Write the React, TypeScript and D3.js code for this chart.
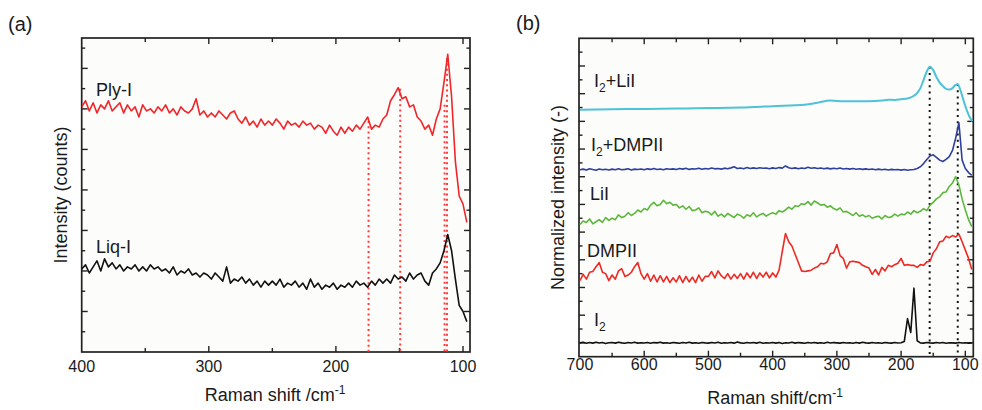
import React from 'react';
import * as d3 from 'd3';

// ---------- Panel (a) data: x grid 400 -> 97 step -3 ----------
const A_X_START = 400;
const A_X_STEP = -3;
const A_PLY = [
  12.1, 12.4, 11.9, 12.3, 11.8, 12.2, 12.0, 12.4, 11.9, 12.1,
  12.3, 11.8, 12.2, 11.9, 12.1, 11.6, 12.2, 11.9, 12.0, 11.8,
  12.1, 11.9, 12.2, 11.8, 12.0, 11.7, 12.1, 11.9, 11.8, 12.0,
  12.5, 11.7, 11.9, 11.6, 11.8, 11.6, 11.9, 11.7, 11.5, 11.8,
  11.9, 11.5, 11.3, 11.6, 11.2, 11.4, 11.1, 11.5, 11.2, 11.4,
  11.2, 11.5, 11.3, 11.0, 11.4, 11.2, 11.3, 11.1, 11.4, 11.2,
  11.3, 11.0, 11.2, 11.1, 10.8, 11.2, 10.9, 10.7, 11.1, 10.8,
  11.1, 10.9, 11.2, 11.0, 11.3, 11.6, 11.0, 11.2, 11.1, 11.5,
  11.7, 12.4, 12.7, 13.05, 12.5, 12.6, 12.1, 12.2, 11.6, 11.4,
  11.0, 11.2, 10.7, 11.5, 12.0, 13.3, 14.7, 12.6, 9.4, 7.7,
  7.3, 6.4,
];
const A_LIQ = [
  4.1, 4.3, 3.9, 4.2, 4.5, 4.0, 4.6, 4.2, 4.4, 4.1,
  4.3, 4.0, 4.2, 4.1, 4.3, 4.0, 4.2, 4.0, 4.3, 4.1,
  4.2, 4.0, 4.1, 3.9, 4.2, 3.8, 4.0, 3.9, 4.1, 3.8,
  3.9, 3.7, 3.9, 3.8, 3.6, 3.9, 3.7, 3.5, 4.2, 3.4,
  3.6, 3.5, 3.7, 3.4, 3.6, 3.3, 3.5, 3.2, 3.5, 3.3,
  3.5, 3.3, 3.6, 3.2, 3.4, 3.3, 3.5, 3.2, 3.4, 3.1,
  3.6, 3.2, 3.4, 3.1, 3.3, 3.2, 3.4, 3.1, 3.3, 3.2,
  3.4, 3.2, 3.5, 3.3, 3.4, 3.2, 3.5, 3.3, 3.6, 3.4,
  3.6, 3.4, 3.8, 3.6, 3.7, 3.5, 3.9, 3.6, 3.8, 3.9,
  3.5, 3.3, 3.9, 4.1, 4.4, 5.0, 5.8, 5.0, 3.6, 2.3,
  2.0, 1.5,
];
const A_MARK_X = [174.3, 149.4, 114.5, 112.6];
const A_MARK_TOP = [11.4, 13.0, 12.2, 14.5];
const A_X_TICKS = [400, 300, 200, 100];
const A_LABELS = ['Ply-I', 'Liq-I'];

// ---------- Panel (b) data: x grid 700 -> 90 step -5 ----------
const B_X_START = 700;
const B_X_STEP = -5;
const B_I2DMPII = [
  13.50, 13.55, 13.48, 13.58, 13.52, 13.47, 13.56, 13.50, 13.54, 13.49,
  13.55, 13.51, 13.57, 13.50, 13.53, 13.58, 13.49, 13.55, 13.52, 13.56,
  13.50, 13.57, 13.53, 13.60, 13.52, 13.56, 13.50, 13.58, 13.54, 13.57,
  13.52, 13.59, 13.55, 13.61, 13.53, 13.58, 13.56, 13.62, 13.54, 13.60,
  13.56, 13.63, 13.57, 13.60, 13.55, 13.62, 13.58, 13.64, 13.72, 13.60,
  13.63, 13.58, 13.66, 13.60, 13.64, 13.59, 13.65, 13.61, 13.63, 13.58,
  13.64, 13.60, 13.66, 13.62, 13.78, 13.65, 13.60, 13.64, 13.58, 13.63,
  13.60, 13.68, 13.61, 13.65, 13.59, 13.63, 13.58, 13.62, 13.57, 13.61,
  13.58, 13.63, 13.56, 13.60, 13.55, 13.59, 13.54, 13.58, 13.53, 13.57,
  13.52, 13.56, 13.50, 13.55, 13.51, 13.54, 13.49, 13.53, 13.50, 13.52,
  13.48, 13.52, 13.47, 13.50, 13.52, 13.60, 13.72, 13.95, 14.25, 14.50,
  14.58, 14.40, 14.20, 14.10, 14.25, 14.45, 14.9, 15.8, 16.9, 14.2,
  13.6, 13.3, 13.1,
];
const B_LII = [
  9.55, 9.8, 9.7, 9.95, 9.6, 9.75, 9.9, 9.7, 10.05, 9.85,
  10.0, 9.9, 10.25, 10.05, 10.15, 10.4, 10.2, 10.35, 10.6, 10.45,
  10.7, 10.6, 10.95, 11.15, 10.9, 11.0, 11.3, 11.05, 11.15, 10.95,
  11.0, 10.75, 10.9, 10.65, 10.85, 10.55, 10.6, 10.75, 10.4, 10.5,
  10.45, 10.25, 10.5, 10.15, 10.3, 10.1, 10.35, 10.2, 10.05, 10.3,
  10.2, 10.0, 10.25, 10.15, 10.4, 10.1, 10.25, 10.35, 10.15, 10.3,
  10.4, 10.3, 10.55, 10.45, 10.6, 10.8, 10.65, 10.9, 10.85, 11.05,
  11.0, 11.2, 10.95, 11.25, 11.1, 10.95, 11.0, 10.8, 10.9, 10.7,
  10.6, 10.75, 10.45, 10.5, 10.35, 10.2, 10.4, 10.15, 10.25, 10.1,
  10.2, 10.0, 10.1, 10.15, 9.95, 10.2, 10.05, 10.1, 10.3, 10.15,
  10.3, 10.25, 10.45, 10.3, 10.55, 10.4, 10.5, 10.7, 10.55, 10.95,
  11.15, 11.4, 11.55, 11.85, 11.9, 12.3, 12.55, 13.0, 12.4, 11.4,
  10.6, 9.9, 9.4,
];
const B_DMPII = [
  5.5, 5.95, 5.6, 6.1, 6.15, 6.5, 6.8, 6.1, 6.0, 5.5,
  5.9, 5.6, 6.2, 6.35, 5.8, 5.9, 6.1, 6.5, 6.8, 6.0,
  5.6, 6.0, 5.45, 5.9, 5.4, 5.85, 5.4, 5.8, 5.35, 5.7,
  5.4, 5.85, 5.35, 5.8, 5.4, 5.75, 5.35, 5.9, 5.45, 5.8,
  5.8, 6.15, 5.7, 6.2, 5.85, 5.65, 6.0, 5.6, 5.95, 5.65,
  6.0, 5.6, 6.05, 5.7, 6.1, 5.65, 6.05, 5.75, 6.1, 5.7,
  6.05, 5.75, 6.25, 7.6, 8.9, 8.3, 8.0, 7.4, 6.8, 6.2,
  6.15, 6.2, 6.25, 6.4, 6.5, 6.75, 6.7, 6.85, 7.45, 7.5,
  8.1, 7.3, 7.1, 6.4, 6.85, 6.9, 6.85, 6.8, 6.6, 6.5,
  6.4, 5.95, 6.3, 5.9, 6.45, 6.2, 6.6, 6.5, 6.65, 6.75,
  7.1, 6.6, 6.65, 6.6, 6.6, 6.45, 6.65, 6.6, 6.85, 6.9,
  7.5, 7.8, 8.3, 8.35, 8.7, 8.6, 8.75, 8.65, 8.85, 8.3,
  7.7, 7.1, 6.3,
];
const B_I2 = [
  1.0, 1.04, 0.97, 1.02, 0.98, 1.05, 0.99, 1.03, 0.96, 1.01,
  1.03, 0.98, 1.05, 1.0, 0.97, 1.02, 0.99, 1.04, 0.98, 1.01,
  0.99, 1.03, 0.97, 1.02, 1.0, 1.05, 0.98, 1.01, 0.97, 1.03,
  1.0, 0.97, 1.02, 0.99, 1.04, 0.98, 1.01, 0.97, 1.03, 1.0,
  0.98, 1.02, 0.99, 1.04, 0.97, 1.01, 0.99, 1.03, 0.98, 1.06,
  1.0, 0.97, 1.03, 0.99, 1.02, 0.98, 1.04, 0.97, 1.01, 0.99,
  1.02, 0.98, 1.03, 0.96, 1.01, 0.99, 1.04, 0.98, 1.02, 1.0,
  0.97, 1.03, 0.99, 1.02, 0.98, 1.01, 0.97, 1.04, 0.99, 1.02,
  1.0, 0.98, 1.03, 0.99, 1.01, 0.97, 1.02, 0.98, 1.04, 1.0,
  0.98, 1.02, 0.99, 1.01, 0.97, 1.03, 1.0, 0.98, 1.02, 0.99,
  1.01, 1.1, 2.75, 1.75, 4.95, 1.15, 1.0, 0.98, 1.03, 1.0,
  0.98, 1.02, 0.99, 1.03, 0.97, 1.01, 1.0, 0.98, 1.02, 0.99,
  1.01, 0.98, 1.0,
];
// I2+LiI is smooth: own sample points
const B_I2LII_X = [700, 650, 600, 550, 500, 450, 400, 350, 330, 310, 290, 270, 250, 230, 220, 210, 200, 190, 180, 175, 170, 165, 160, 155, 150, 145, 140, 135, 130, 125, 120, 116, 112, 108, 104, 100, 96, 92, 89];
const B_I2LII_Y = [17.84, 17.87, 17.9, 17.93, 17.96, 18.0, 18.1, 18.2, 18.35, 18.5, 18.45, 18.45, 18.45, 18.5, 18.56, 18.55, 18.6, 18.65, 18.85, 19.05, 19.4, 20.0, 20.6, 20.95, 20.7, 20.2, 19.8, 19.55, 19.35, 19.3, 19.4, 19.6, 19.7, 19.3, 18.7, 18.1, 17.6, 17.2, 17.0];
const B_MARK_X = [155.5, 111.8];
const B_MARK_TOP = [20.95, 19.7];
const B_X_TICKS = [700, 600, 500, 400, 300, 200, 100];

const FONT = "'Liberation Sans', Arial, Helvetica, sans-serif";

const PA = { l: 81.7, r: 470, t: 38, b: 352 };
const PB = { l: 579, r: 973.3, t: 38.3, b: 356.7 };

type Pt = [number, number];

function grid(start: number, step: number, ys: number[]): Pt[] {
  return ys.map((y, i) => [start + step * i, y] as Pt);
}

function Frame({ P, x, y, yMax, xMinor, xMajorEvery, yMajorOdd }: any) {
  const els: any[] = [];
  const xt = d3.range(xMinor[0], xMinor[1] - 1, -50);
  xt.forEach((v: number, i: number) => {
    const px = x(v);
    if (px <= P.l + 1 || px >= P.r - 1) return;
    const len = v % xMajorEvery === 0 ? 6 : 4;
    els.push(<line key={'xb' + i} x1={px} x2={px} y1={P.b} y2={P.b - len} stroke="#222" strokeWidth={1.4} />);
    els.push(<line key={'xt' + i} x1={px} x2={px} y1={P.t} y2={P.t + len} stroke="#222" strokeWidth={1.4} />);
  });
  d3.range(1, yMax + 1).forEach((v: number) => {
    const py = y(v);
    if (py <= P.t + 1) return;
    const major = yMajorOdd ? v % 2 === 1 : v % 2 === 0;
    const len = major ? 6 : 3.5;
    els.push(<line key={'yl' + v} x1={P.l} x2={P.l + len} y1={py} y2={py} stroke="#222" strokeWidth={1.4} />);
    els.push(<line key={'yr' + v} x1={P.r} x2={P.r - len} y1={py} y2={py} stroke="#222" strokeWidth={1.4} />);
  });
  return (
    <g>
      <rect x={P.l} y={P.t} width={P.r - P.l} height={P.b - P.t} fill="#fcfcfa" stroke="none" />
      {els}
      <rect x={P.l} y={P.t} width={P.r - P.l} height={P.b - P.t} fill="none" stroke="#222" strokeWidth={1.7} />
    </g>
  );
}

export default function App() {
  const xA = d3.scaleLinear().domain([400, 94.5]).range([PA.l, PA.r]);
  const yA = d3.scaleLinear().domain([0, 15.5]).range([PA.b, PA.t]);
  const xB = d3.scaleLinear().domain([701.5, 87.6]).range([PB.l, PB.r]);
  const yB = d3.scaleLinear().domain([0, 23]).range([PB.b, PB.t]);

  const lineA = d3.line<Pt>().x((d) => xA(d[0])).y((d) => yA(d[1]));
  const lineB = d3.line<Pt>().x((d) => xB(d[0])).y((d) => yB(d[1]));
  const lineBSmooth = d3.line<Pt>().x((d) => xB(d[0])).y((d) => yB(d[1])).curve(d3.curveMonotoneX);

  const ply = grid(A_X_START, A_X_STEP, A_PLY);
  const liq = grid(A_X_START, A_X_STEP, A_LIQ);
  const bSeries = [
    { d: grid(B_X_START, B_X_STEP, B_I2DMPII), c: '#2f3f9f' },
    { d: grid(B_X_START, B_X_STEP, B_LII), c: '#5cb83c' },
    { d: grid(B_X_START, B_X_STEP, B_DMPII), c: '#ee2a24' },
    { d: grid(B_X_START, B_X_STEP, B_I2), c: '#111111' },
  ];
  const cyan: Pt[] = B_I2LII_X.map((v, i) => [v, B_I2LII_Y[i]] as Pt);

  const txt = { fontFamily: FONT, fill: '#1a1a1a' } as any;

  return (
    <svg width={982} height={410} style={{ position: 'absolute', left: 0, top: 0, background: '#fff' }}>
      <defs>
        <clipPath id="ca"><rect x={PA.l} y={PA.t} width={PA.r - PA.l} height={PA.b - PA.t} /></clipPath>
        <clipPath id="cb"><rect x={PB.l} y={PB.t} width={PB.r - PB.l} height={PB.b - PB.t} /></clipPath>
      </defs>

      {/* Panel (a) */}
      <text x={8} y={31} fontSize={20} {...txt}>(a)</text>
      <Frame P={PA} x={xA} y={yA} yMax={15} xMinor={[400, 100]} xMajorEvery={100} yMajorOdd={false} />
      <g clipPath="url(#ca)">
        {A_MARK_X.map((v, i) => (
          <line key={i} x1={xA(v)} x2={xA(v)} y1={yA(A_MARK_TOP[i])} y2={PA.b} stroke="#ff3b3b" strokeWidth={2} strokeDasharray="2 3.2" />
        ))}
        <path d={lineA(ply) || ''} fill="none" stroke="#f0262a" strokeWidth={1.6} strokeLinejoin="round" />
        <path d={lineA(liq) || ''} fill="none" stroke="#111" strokeWidth={1.6} strokeLinejoin="round" />
      </g>
      <text x={96} y={96} fontSize={18} {...txt}>{A_LABELS[0]}</text>
      <text x={96} y={253} fontSize={18} {...txt}>{A_LABELS[1]}</text>
      {A_X_TICKS.map((v) => (
        <text key={v} x={xA(v)} y={372} fontSize={16} textAnchor="middle" {...txt}>{v}</text>
      ))}
      <text x={275} y={401} fontSize={18} textAnchor="middle" {...txt}>
        Raman shift /cm<tspan fontSize={12} dy={-7}>-1</tspan>
      </text>
      <text transform={`translate(67,${(PA.t + PA.b) / 2}) rotate(-90)`} fontSize={18} textAnchor="middle" {...txt}>Intensity (counts)</text>

      {/* Panel (b) */}
      <text x={516} y={30} fontSize={20} {...txt}>(b)</text>
      <Frame P={PB} x={xB} y={yB} yMax={22} xMinor={[700, 100]} xMajorEvery={100} yMajorOdd={true} />
      <g clipPath="url(#cb)">
        {B_MARK_X.map((v, i) => (
          <line key={i} x1={xB(v)} x2={xB(v)} y1={yB(B_MARK_TOP[i])} y2={PB.b} stroke="#111" strokeWidth={2} strokeDasharray="2 4.2" />
        ))}
        <path d={lineBSmooth(cyan) || ''} fill="none" stroke="#4dc2d8" strokeWidth={2} />
        {bSeries.map((s, i) => (
          <path key={i} d={lineB(s.d) || ''} fill="none" stroke={s.c} strokeWidth={1.6} strokeLinejoin="round" />
        ))}
      </g>
      <text x={594} y={87} fontSize={18} {...txt}>I<tspan fontSize={12} dy={5}>2</tspan><tspan dy={-5}>+LiI</tspan></text>
      <text x={591} y={151} fontSize={18} {...txt}>I<tspan fontSize={12} dy={5}>2</tspan><tspan dy={-5}>+DMPII</tspan></text>
      <text x={590} y={200} fontSize={18} {...txt}>LiI</text>
      <text x={587} y={257} fontSize={18} {...txt}>DMPII</text>
      <text x={594} y={326} fontSize={18} {...txt}>I<tspan fontSize={12} dy={5}>2</tspan></text>
      {B_X_TICKS.map((v) => (
        <text key={v} x={xB(v)} y={370} fontSize={16} textAnchor="middle" {...txt}>{v}</text>
      ))}
      <text x={775} y={404} fontSize={18} textAnchor="middle" {...txt}>
        Raman shift/cm<tspan fontSize={12} dy={-7}>-1</tspan>
      </text>
      <text transform={`translate(564,${(PB.t + PB.b) / 2}) rotate(-90)`} fontSize={18} textAnchor="middle" {...txt}>Normalized intensity (-)</text>
    </svg>
  );
}
